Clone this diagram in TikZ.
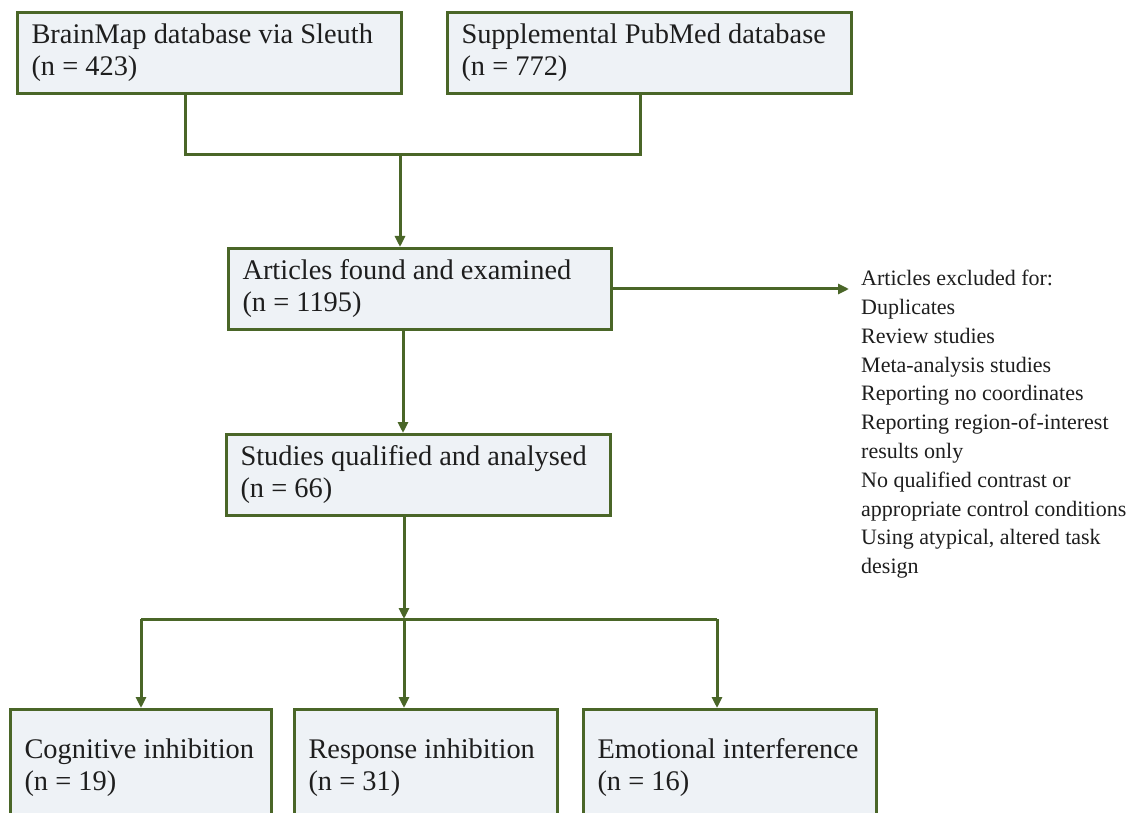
\documentclass[tikz,border=0pt]{standalone}
\usepackage{fontspec}
\setmainfont{Liberation Serif}
\usetikzlibrary{arrows.meta}
\definecolor{dgreen}{RGB}{74,102,40}
\definecolor{boxfill}{RGB}{238,242,246}
\definecolor{txt}{RGB}{30,30,30}
\begin{document}
\begin{tikzpicture}[x=1pt,y=-1pt,
  flowbox/.style={draw=dgreen, fill=boxfill, line width=3pt, inner xsep=14pt, inner ysep=0pt,
    anchor=north west, align=flush left, font=\fontsize{28.4pt}{32pt}\selectfont, text=txt},
  conn/.style={draw=dgreen, line width=3pt},
  arr/.style={conn, -{Triangle[length=11pt,width=10pt]}},
  excltext/.style={anchor=north west, inner xsep=12pt, inner ysep=0pt, align=flush left,
    font=\fontsize{22pt}{28.8pt}\selectfont, text=txt}]
\useasboundingbox (0,0) rectangle (1136,813);
\clip (0,0) rectangle (1136,813);
\fill[white] (0,0) rectangle (1136,813);

\node[flowbox, text width=356pt, minimum height=81pt] (b1) at (16,11) {\mbox{BrainMap database via Sleuth}\\\mbox{(n = 423)}};
\node[flowbox, text width=376pt, minimum height=81pt] (b2) at (446,11) {\mbox{Supplemental PubMed database}\\\mbox{(n = 772)}};
\node[flowbox, text width=355pt, minimum height=81pt] (b3) at (227,247) {\mbox{Articles found and examined}\\\mbox{(n = 1195)}};
\node[flowbox, text width=356pt, minimum height=81pt] (b4) at (225,433) {\mbox{Studies qualified and analysed}\\\mbox{(n = 66)}};
\node[flowbox, text width=233pt, minimum height=116pt] (cA) at (9,708) {\mbox{Cognitive inhibition}\\\mbox{(n = 19)}};
\node[flowbox, text width=235pt, minimum height=116pt] (cB) at (293,708) {\mbox{Response inhibition}\\\mbox{(n = 31)}};
\node[flowbox, text width=265pt, minimum height=116pt] (cC) at (582,708) {\mbox{Emotional interference}\\\mbox{(n = 16)}};

\node[excltext] (excl) at (849,270) {Articles excluded for:\\Duplicates\\Review studies\\Meta-analysis studies\\Reporting no coordinates\\Reporting region-of-interest\\results only\\No qualified contrast or\\appropriate control conditions\\Using atypical, altered task\\design};

\coordinate (j1) at (185,155);
\coordinate (j2) at (640,155);
\coordinate (jm) at (400,155);
\coordinate (s1) at (403,380);
\coordinate (j) at (404,619);
\coordinate (jl) at (141,619);
\coordinate (jr) at (717,619);

\draw[conn, line join=miter] (b1.south -| j1) -- (j1) -- (j2) -- (b2.south -| j2);
\draw[arr] (jm) -- (b3.north -| jm);
\draw[arr] (b3.east) -- (b3.east -| excl.west);
\draw[arr] (b3.south -| s1) -- (b4.north -| s1);
\draw[arr] (b4.south -| j) -- (j);
\draw[conn] (jl) -- (jr);
\draw[arr] (jl) -- (cA.north -| jl);
\draw[arr] (j) -- (cB.north -| j);
\draw[arr] (jr) -- (cC.north -| jr);
\end{tikzpicture}
\end{document}
